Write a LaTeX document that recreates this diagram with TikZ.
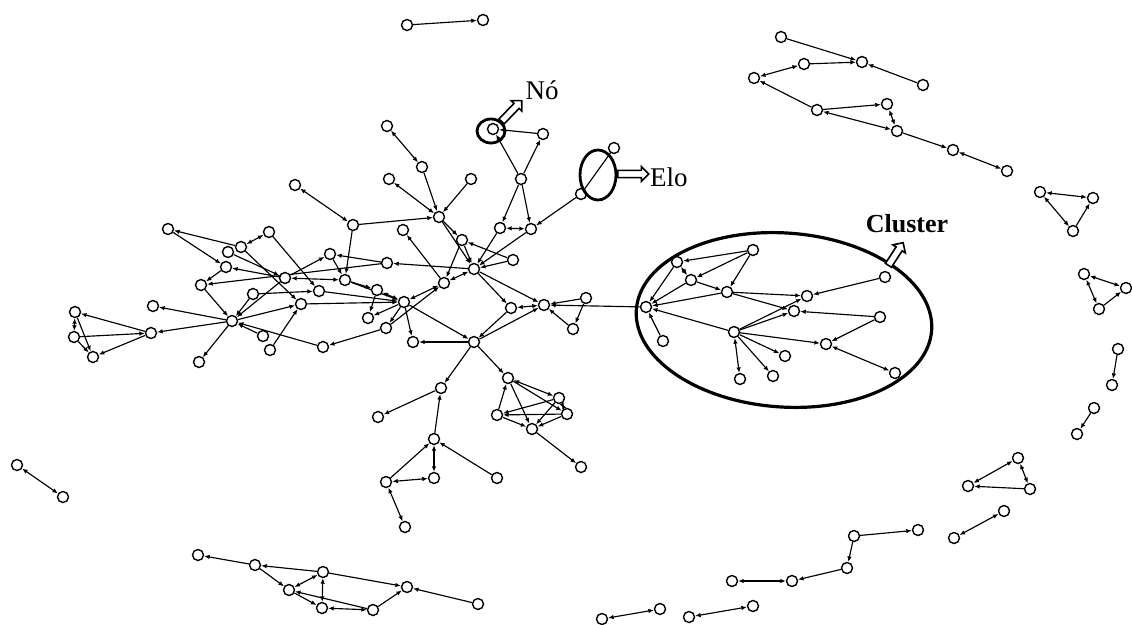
\documentclass[tikz,border=0pt]{standalone}
\usepackage{fontspec}
\setmainfont{Liberation Serif}
\usetikzlibrary{arrows.meta,shapes.arrows}
\pgfdeclarelayer{back}
\pgfdeclarelayer{bg}
\pgfsetlayers{back,bg,main}
\tikzset{
 v/.style={circle, draw, line width=1.4pt, minimum size=11pt, inner sep=0pt, fill=white},
 ed/.style={line width=1.15pt, -{Latex[length=5.5pt,width=4.5pt]}},
 bd/.style={line width=1.15pt, {Latex[length=5.5pt,width=4.5pt]}-{Latex[length=5.5pt,width=4.5pt]}},
 pl/.style={line width=1.15pt},
 ring/.style={line width=2.8pt},
 harrow/.style={single arrow, draw, line width=1.6pt, fill=white, inner sep=2.8pt, single arrow head extend=3.8pt, anchor=tail},
 lbl/.style={font=\fontsize{27}{29}\selectfont, inner sep=0pt},
}
\begin{document}
\begin{tikzpicture}[x=1pt,y=-1pt]
\begin{pgfonlayer}{back}
\fill[white] (0,0) rectangle (1132,624);
\end{pgfonlayer}
\useasboundingbox (0,0) rectangle (1132,624);
\foreach \n/\x/\y in {p1/407/25, p2/483/20, q1/17/465, q2/63/497,
 t1/781/37, t2/862/62, t3/804/64, t4/754/78, t5/923/85, t6/817/110, t7/887/104, t8/897/131, t9/953/150, t10/1007/171,
 r1/1040/192, r2/1093/198, r3/1073/231,
 s1/1084/274, s2/1126/288, s3/1099/309,
 u1/1118/349, u2/1112/385, u3/1094/408, u4/1077/434,
 w1/1018/458, w2/968/486, w3/1030/489,
 x1/1004/511, x2/954/538,
 y1/918/530, y2/854/536, y3/847/568, y4/792/581, y5/732/581,
 z1/660/609, z2/602/619, z3/753/606, z4/689/617,
 g1/198/555, g2/255/565, g3/323/572, g4/289/590, g5/322/608, g6/373/610, g7/407/587, g8/478/604,
 A1/168/229, A2/241/247, A3/228/252, A4/269/232, A5/226/267, A6/285/278, A7/201/285, A8/253/294, A9/153/306, A10/232/321, A11/301/304, A12/263/336, A13/270/350, A14/199/362, A15/151/333, A16/75/312, A17/74/337, A18/93/357,
 B1/295/185, B2/353/225, B3/330/254, B4/387/263, B5/345/280, B6/319/291, B7/377/290, B8/368/318, B9/404/302, B10/386/328, B11/413/342, B12/323/347,
 C1/387/126, C2/422/167, C3/389/179, C4/471/179, C5/439/217, C6/403/230, C7/462/240, C8/474/269, C9/444/283, C10/493/129, C11/543/134, C12/521/179, C13/614/148, C14/581/194, C15/500/228, C16/531/229, C17/513/260, C18/511/308, C19/544/305, C20/586/298, C21/573/329, C22/474/342,
 D1/441/388, D2/378/417, D3/434/439, D4/434/478, D5/386/482, D6/497/478, D7/405/527,
 E1/508/378, E2/559/398, E3/567/414, E4/497/415, E5/532/429, E6/581/467,
 K1/646/307, K2/677/262, K3/753/250, K4/691/280, K5/727/292, K6/663/341, K7/734/332, K8/807/296, K9/794/311, K10/885/277, K11/880/317, K12/826/344, K13/785/356, K14/773/376, K15/740/379, K16/895/373}
 \node[v] (\n) at (\x,\y) {};
\begin{pgfonlayer}{bg}
\foreach \a/\b in {p1/p2, t1/t2, t3/t2, t5/t2, t6/t4, t6/t7, t8/t9, r3/r2, s3/s2, u1/u2, u3/u4, w3/w2, y2/y1, y2/y3, y3/y4, g2/g1, g3/g2, g2/g4, g4/g5, g6/g4, g3/g7, g6/g7, g8/g7,
 A2/A1, A1/A5, A4/B6, A2/A11, A6/A5, A5/A7, A7/A10, B4/A7, A6/A10, A8/A10, A10/A11, A10/A9, A10/A15, A10/A14, A12/A10, B12/A10, A13/A11, A15/A16, A17/A15, A15/A18, A16/A18, A17/A18, A3/A6, A6/B3, A8/B6,
 B2/B5, B2/C5, B4/B3, B3/B5, B5/B7, B5/B9, B6/B9, A11/B9, B9/B8, B7/B8, B9/B11, B9/B10, B10/C9, B10/B12, C22/B11, B9/C22, C8/B4,
 C9/C6, C7/C9, C5/C7, C7/C8, C17/C7, C17/C8, C15/C8, C16/C8, C12/C15, C12/C16, C12/C10, C12/C11, C11/C10, C14/C16, C2/C5, C4/C5, C5/C8, C8/C19, C8/C18, C18/C22, C22/C19, C20/C19, C21/C19, C20/C21, K1/C19,
 C22/D1, C22/E1, D1/D2, D3/D1, D5/D3, D6/D3, E1/E3, E4/E1, E1/E5, E2/E4, E3/E4, E2/E5, E3/E5, E4/E5, E5/E6,
 K2/K1, K3/K2, K3/K4, K3/K5, K4/K5, K4/K1, K5/K1, K5/K9, K5/K8, K7/K8, K7/K9, K10/K8, K11/K9, K11/K12, K7/K12, K7/K1, K6/K1, K7/K13, K7/K14}
 \draw[ed] (\a) -- (\b);
\foreach \a/\b in {q1/q2, t3/t4, t8/t6, t7/t8, t10/t9, r1/r2, r1/r3, s1/s2, s1/s3, w1/w2, w1/w3, x1/x2, y5/y4, z1/z2, z3/z4, g3/g4, g3/g5, g5/g6,
 A2/A4, A16/A17, A6/B5, B1/B2, B7/B9, C9/B9, C9/C8, C15/C16, C1/C2, C3/C5, C18/C19, D3/D4, D4/D5, D5/D7, E1/E2, E2/E3, K2/K4, K16/K12, K7/K15}
 \draw[bd] (\a) -- (\b);
\draw[pl] (C14) -- (C13);
\end{pgfonlayer}
% highlight ellipses
\coordinate (eNo) at (491,131);
\coordinate (eElo) at (598,175);
\coordinate (eCl) at (784,320);
\draw[ring] (eNo) ellipse [x radius=14pt, y radius=12pt];
\draw[ring] (eElo) ellipse [x radius=18pt, y radius=25pt];
\draw[line width=3.2pt, rotate around={-4:(eCl)}] (eCl) ellipse [x radius=148pt, y radius=87pt];
% hollow arrows
\node[harrow, minimum height=29pt, rotate=46] (aNo) at (501,122) {};
\node[harrow, minimum height=31pt] (aElo) at (617,174) {};
\node[harrow, minimum height=27pt, rotate=57] (aCl) at (888,266) {};
% labels
\node[lbl] (tNo) at (542,90) {Nó};
\node[lbl, anchor=west] (tElo) at (650,177) {Elo};
\node[lbl, font=\fontsize{26}{28}\selectfont\bfseries] (tCl) at (907,224) {Cluster};
\end{tikzpicture}
\end{document}
